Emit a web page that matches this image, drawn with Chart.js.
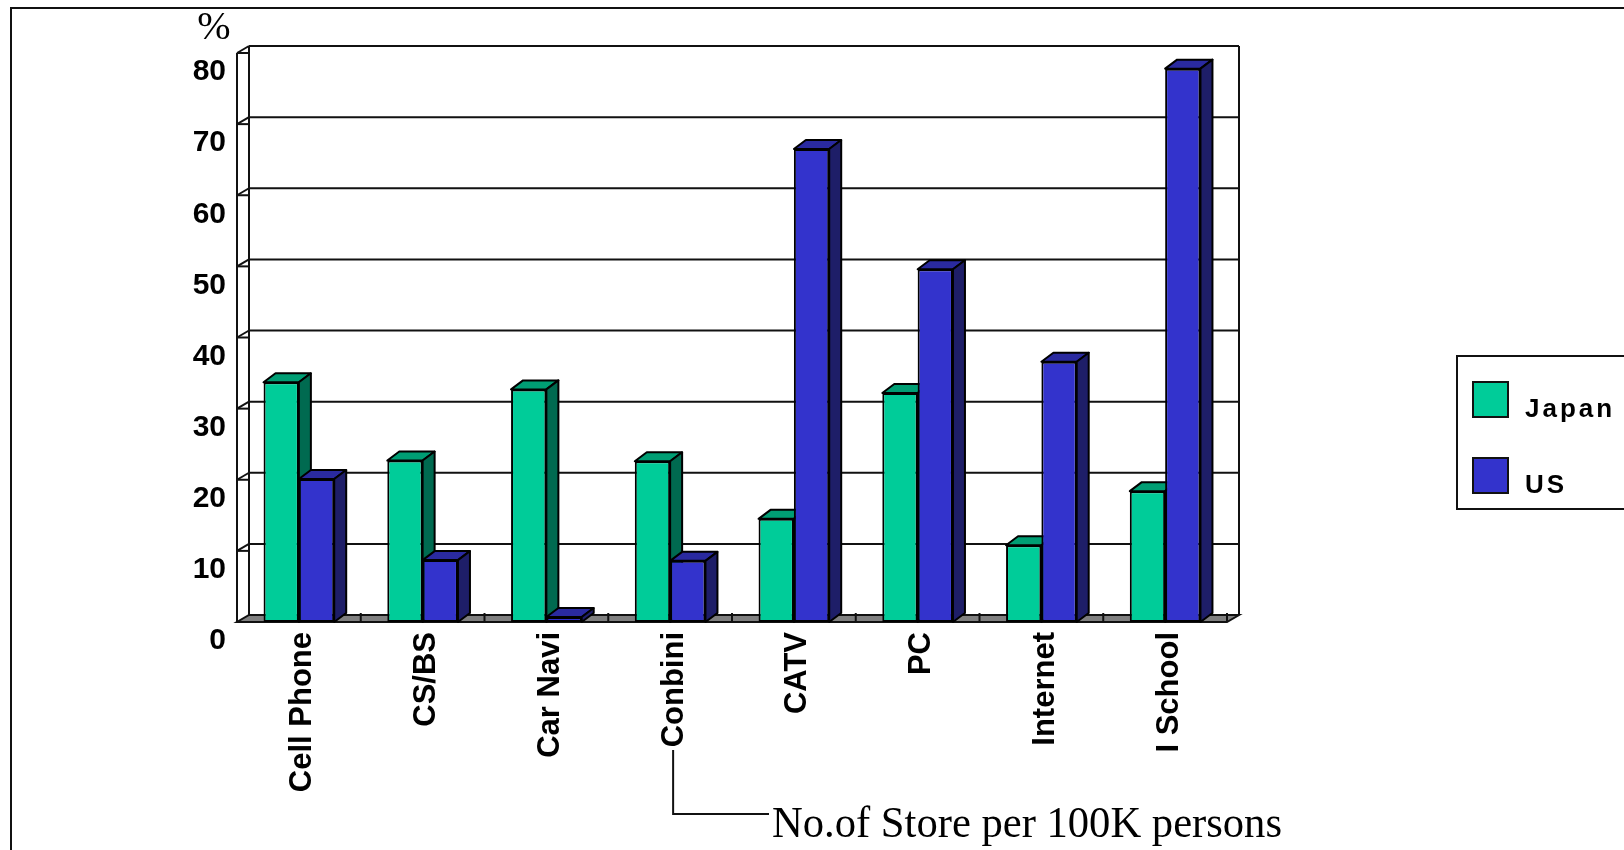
<!DOCTYPE html>
<html>
<head>
<meta charset="utf-8">
<script src="https://cdn.jsdelivr.net/npm/chart.js@4.4.0/dist/chart.umd.min.js"></script>
<style>
  html, body { margin: 0; padding: 0; background: #fff; }
  #wrap { width: 1624px; height: 850px; }
</style>
</head>
<body>
<div id="wrap"><canvas id="chart" width="1624" height="850"></canvas></div>
<script>
var categories = ["Cell Phone", "CS/BS", "Car Navi", "Conbini", "CATV", "PC", "Internet", "I School"];
var japanValues = [33.7, 22.7, 32.7, 22.6, 14.5, 32.2, 10.8, 18.4];
var usValues = [20.1, 8.7, 0.7, 8.6, 66.5, 49.6, 36.6, 77.8];
var yTicks = [0, 10, 20, 30, 40, 50, 60, 70, 80];
var seriesNames = ["Japan", "US"];
var noteText = "No.of Store per 100K persons";

// depth offsets: walls are a little shallower than the bar boxes
var DX = 12, WALL_DY = 7, BAR_DY = 9;

var faceColors = [
  { front: "#00cc99", top: "#009e74", side: "#006a50" },
  { front: "#3333cc", top: "#2a2aa0", side: "#1e1e68" }
];

function poly(ctx, pts, fill) {
  ctx.beginPath();
  ctx.moveTo(pts[0][0], pts[0][1]);
  for (var i = 1; i < pts.length; i++) ctx.lineTo(pts[i][0], pts[i][1]);
  ctx.closePath();
  if (fill) { ctx.fillStyle = fill; ctx.fill(); }
  ctx.stroke();
}

function line(ctx, x1, y1, x2, y2) {
  ctx.beginPath();
  ctx.moveTo(x1, y1);
  ctx.lineTo(x2, y2);
  ctx.stroke();
}

// top and side faces of every bar in one dataset
function drawFaces(chart, index) {
  var ctx = chart.ctx;
  var meta = chart.getDatasetMeta(index);
  var c = faceColors[index];
  ctx.save();
  ctx.strokeStyle = "#000";
  ctx.lineWidth = 2;
  ctx.lineJoin = "round";
  meta.data.forEach(function(bar) {
    var p = bar.getProps(["x", "y", "base", "width"], true);
    var l = p.x - p.width / 2, r = p.x + p.width / 2, t = p.y, b = p.base;
    poly(ctx, [[l, t], [r, t], [r + DX, t - BAR_DY], [l + DX, t - BAR_DY]], c.top);
    poly(ctx, [[r, t], [r + DX, t - BAR_DY], [r + DX, b - BAR_DY], [r, b]], c.side);
  });
  ctx.restore();
}

var box3d = {
  id: "box3d",
  beforeDraw: function(chart) {
    var ctx = chart.ctx;
    ctx.save();
    ctx.fillStyle = "#fff";
    ctx.fillRect(0, 0, chart.width, chart.height);
    // outer frame
    ctx.strokeStyle = "#111";
    ctx.lineWidth = 2;
    ctx.beginPath();
    ctx.moveTo(11, chart.height);
    ctx.lineTo(11, 8);
    ctx.lineTo(chart.width, 8);
    ctx.stroke();
    // unit mark
    ctx.fillStyle = "#000";
    ctx.font = '40px "Liberation Serif", "Times New Roman", serif';
    ctx.textAlign = "center";
    ctx.textBaseline = "middle";
    ctx.fillText("%", 214, 28);
    ctx.restore();
  },
  beforeDatasetsDraw: function(chart) {
    var ctx = chart.ctx, area = chart.chartArea, ys = chart.scales.y;
    var L = area.left, R = area.right;
    var B = ys.getPixelForValue(0), T = ys.getPixelForValue(yTicks[yTicks.length - 1]);
    ctx.save();
    ctx.strokeStyle = "#111";
    ctx.lineWidth = 2;
    // floor
    poly(ctx, [[L, B], [R, B], [R + DX, B - WALL_DY], [L + DX, B - WALL_DY]], "#808080");
    // gridlines on back and left walls
    yTicks.forEach(function(v) {
      if (v === 0) return;
      var y = ys.getPixelForValue(v);
      line(ctx, L + DX, y - WALL_DY, R + DX, y - WALL_DY);
      line(ctx, L, y, L + DX, y - WALL_DY);
      line(ctx, L, y, L + DX, y);
    });
    line(ctx, L, T, L, B);
    line(ctx, L + DX, T - WALL_DY, L + DX, B - WALL_DY);
    line(ctx, R + DX, T - WALL_DY, R + DX, B - WALL_DY);
    // category ticks on the floor edge
    var step = (R - L) / categories.length;
    for (var k = 1; k <= categories.length; k++) {
      var x = L + k * step;
      line(ctx, x, B, x, B - WALL_DY - 2);
    }
    ctx.restore();
    // Japan faces go behind the US fronts
    drawFaces(chart, 0);
  },
  afterDatasetsDraw: function(chart) {
    drawFaces(chart, 1);
  },
  afterDraw: function(chart) {
    var ctx = chart.ctx;
    ctx.save();
    // legend
    ctx.strokeStyle = "#111";
    ctx.lineWidth = 2;
    ctx.strokeRect(1457, 356, 220, 153);
    ctx.font = 'bold 26px "Liberation Sans", Arial, sans-serif';
    ctx.letterSpacing = "3px";
    ctx.textBaseline = "alphabetic";
    ctx.textAlign = "left";
    var rows = [382, 458];
    seriesNames.forEach(function(name, i) {
      ctx.fillStyle = faceColors[i].front;
      ctx.fillRect(1473, rows[i], 35, 35);
      ctx.strokeRect(1473, rows[i], 35, 35);
      ctx.fillStyle = "#000";
      ctx.fillText(name, 1525, rows[i] + 35);
    });
    ctx.letterSpacing = "0px";
    // note hanging from the Conbini label
    var xs = chart.scales.x;
    var cx = xs.getPixelForValue(3) + 3;
    ctx.beginPath();
    ctx.moveTo(cx, 750);
    ctx.lineTo(cx, 814);
    ctx.lineTo(769, 814);
    ctx.stroke();
    ctx.fillStyle = "#000";
    ctx.font = '45px "Liberation Serif", "Times New Roman", serif';
    ctx.fillText(noteText, 772, 837, 510);
    ctx.restore();
  }
};

var ctx = document.getElementById("chart").getContext("2d");
new Chart(ctx, {
  type: "bar",
  data: {
    labels: categories,
    datasets: [{
      label: seriesNames[0],
      data: japanValues,
      backgroundColor: faceColors[0].front,
      borderColor: "#000",
      borderWidth: 2,
      borderSkipped: false
    }, {
      label: seriesNames[1],
      data: usValues,
      backgroundColor: faceColors[1].front,
      borderColor: "#000",
      borderWidth: 2,
      borderSkipped: false
    }]
  },
  options: {
    responsive: false,
    animation: false,
    events: [],
    layout: { padding: { left: 0, right: 397, top: 53, bottom: 0 } },
    datasets: { bar: { barPercentage: 1, categoryPercentage: 0.571 } },
    plugins: { legend: { display: false }, tooltip: { enabled: false } },
    scales: {
      x: {
        grid: { display: false },
        border: { display: false },
        ticks: {
          color: "#000",
          font: { family: '"Liberation Sans", Arial, sans-serif', size: 31, weight: "bold" },
          minRotation: 90,
          maxRotation: 90,
          padding: 2,
          labelOffset: 4,
          autoSkip: false
        },
        afterFit: function(scale) { scale.height = 228; }
      },
      y: {
        min: 0,
        max: 80,
        grid: { display: false },
        border: { display: false },
        ticks: {
          stepSize: 10,
          color: "#000",
          padding: 3,
          labelOffset: 19,
          font: { family: '"Liberation Sans", Arial, sans-serif', size: 30, weight: "bold" }
        },
        afterFit: function(scale) { scale.width = 237; }
      }
    }
  },
  plugins: [box3d]
});
</script>
</body>
</html>
